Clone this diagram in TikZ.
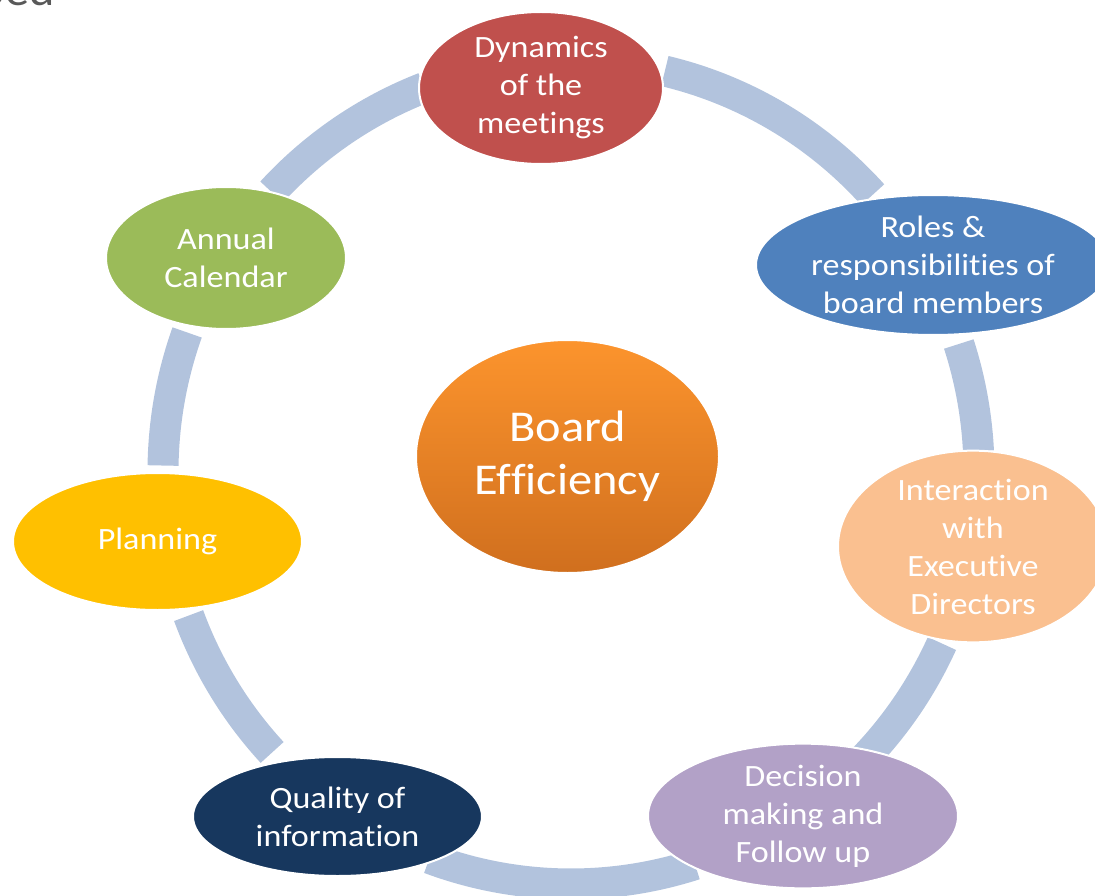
\documentclass[tikz,border=0pt]{standalone}
\usepackage{fontspec}
\setmainfont{Carlito}[FakeStretch=1.1, Ligatures=NoCommon]
\usetikzlibrary{shapes.geometric,calc}

\definecolor{ringblue}{RGB}{178,195,221}
\definecolor{dynred}{RGB}{192,80,77}
\definecolor{roleblue}{RGB}{79,129,189}
\definecolor{interpeach}{RGB}{250,192,144}
\definecolor{decpurple}{RGB}{178,161,199}
\definecolor{qualnavy}{RGB}{23,55,94}
\definecolor{planyellow}{RGB}{255,192,0}
\definecolor{annualgreen}{RGB}{155,187,89}
\definecolor{boardtop}{RGB}{252,148,45}
\definecolor{boardbottom}{RGB}{208,111,30}
\definecolor{titlegray}{RGB}{89,89,89}

\tikzset{
  ring/.style={draw=ringblue, line width=31pt},
  topic/.style={ellipse, inner sep=0pt, draw=white, line width=2pt,
    text=white, align=center, font=\fontsize{31}{38}\selectfont},
  hub/.style={ellipse, inner sep=0pt, draw=white, line width=2pt,
    top color=boardtop, bottom color=boardbottom,
    text=white, align=center, font=\fontsize{44}{53}\selectfont}
}

\begin{document}
\begin{tikzpicture}[x=1pt,y=1pt]
\useasboundingbox (0,-896) rectangle (1095,0);

% fragment of the slide title above the cycle
\node[anchor=base east, inner sep=0pt, text=titlegray,
      font=\fontsize{44}{53}\selectfont] (title) at (55,-6) {bed};

% centre of the ring
\coordinate (rc) at (571,-472);

% ring segments running between the topic ellipses
\foreach \a/\b in {76.7/42.3, 18.1/2.9, -24.6/-44.6, -72.3/-110.3,
                   -137.1/-159.6, -180.9/-199.8, -222.8/-248.9}
  \draw[ring] ($(rc)+(\a:408pt and 412pt)$)
     arc[start angle=\a, end angle=\b, x radius=408pt, y radius=412pt];

% topics around the cycle
\node[topic, fill=dynred, minimum width=244pt, minimum height=152pt]
  (dyn) at (541,-88) {Dynamics\\of the\\meetings};
\node[topic, fill=roleblue, minimum width=354pt, minimum height=140pt]
  (roles) at (933,-265) {Roles \&\\responsibilities of\\board members};
\node[topic, fill=interpeach, minimum width=270pt, minimum height=173pt]
  (inter) at (973,-546.5) {Interaction\\with\\Executive\\Directors};
\node[topic, fill=decpurple, minimum width=310pt, minimum height=116pt]
  (dec) at (803,-816) {Decision\\making and\\Follow up};
\node[topic, fill=qualnavy, minimum width=289pt, minimum height=119pt]
  (qual) at (337.5,-816.5) {Quality of\\information};
\node[topic, fill=planyellow, minimum width=289pt, minimum height=137pt]
  (plan) at (157.5,-541.5) {Planning};
\node[topic, fill=annualgreen, minimum width=240pt, minimum height=142pt]
  (annual) at (226,-258) {Annual\\Calendar};

% central hub
\node[hub, minimum width=303pt, minimum height=233pt]
  (board) at (567.5,-456.5) {Board\\Efficiency};
\end{tikzpicture}
\end{document}
